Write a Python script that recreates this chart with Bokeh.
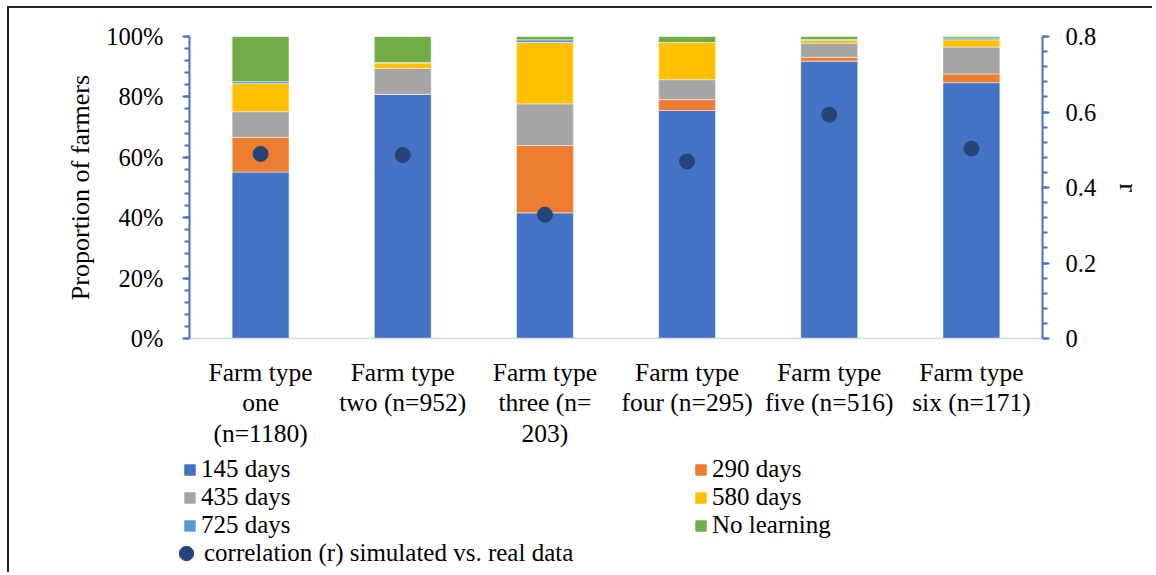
from bokeh.plotting import figure
from bokeh.models import (ColumnDataSource, FactorRange, Range1d, LinearAxis, FixedTicker,
                          NumeralTickFormatter, Legend, LegendItem)
from bokeh.embed import file_html
from bokeh.resources import INLINE

# ---------------- data ----------------
categories = ["Farm type\none\n(n=1180)", "Farm type\ntwo (n=952)", "Farm type\nthree (n=\n203)",
              "Farm type\nfour (n=295)", "Farm type\nfive (n=516)", "Farm type\nsix (n=171)"]
series_names = ["145 days", "290 days", "435 days", "580 days", "725 days", "No learning"]
d145 = [55.1, 80.8, 41.6, 75.5, 91.8, 84.7]
d290 = [11.5, 0.1, 22.3, 3.6, 1.3, 2.9]
d435 = [8.5, 8.5, 13.8, 6.6, 4.7, 8.9]
d580 = [9.3, 1.8, 20.3, 12.3, 0.9, 2.4]
d725 = [0.7, 0.2, 0.9, 0.0, 0.3, 0.6]
dnone = [14.9, 8.6, 1.1, 2.0, 1.0, 0.5]
r_values = [0.489, 0.486, 0.328, 0.469, 0.593, 0.503]
r_name = "correlation (r) simulated vs. real data"
left_ticks = [0, 0.2, 0.4, 0.6, 0.8, 1.0]
right_ticks = [0, 0.2, 0.4, 0.6, 0.8]

colors = ["#4472C4", "#ED7D31", "#A5A5A5", "#FFC000", "#5B9BD5", "#70AD47"]
dot_color = "#264478"
FONT = "Liberation Serif"
BORDER = "2px solid #262626"

series = [d145, d290, d435, d580, d725, dnone]
data = {"x": categories, "r": r_values}
for name, vals in zip(series_names, series):
    data[name] = [v / 100.0 for v in vals]
src = ColumnDataSource(data)

W, HP, HQ = 1145, 447, 119
xrange = FactorRange(*categories, range_padding=0)
p = figure(width=W, height=HP, x_range=xrange,
           y_range=Range1d(0, 1), output_backend="svg", toolbar_location=None,
           min_border_left=180, min_border_top=28, min_border_right=112, min_border_bottom=117)
p.styles = {"margin-left": "7px", "margin-top": "6px", "border-left": BORDER, "border-top": BORDER}
p.outline_line_color = None
p.xgrid.grid_line_color = None
p.ygrid.grid_line_color = None
p.background_fill_color = "white"
p.border_fill_color = "white"

p.vbar_stack(series_names, x="x", width=0.4, source=src, color=colors,
             line_color="white", line_alpha=0.45, line_width=1)

p.extra_y_ranges = {"r": Range1d(0, 0.8)}
p.scatter("x", "r", source=src, y_range_name="r", size=15, color=dot_color)

# x axis
xa = p.xaxis[0]
xa.axis_line_color = "#D9D9D9"
xa.axis_line_width = 1.5
xa.major_tick_line_color = None
xa.minor_tick_line_color = None
xa.major_label_text_font = FONT
xa.major_label_text_font_size = "25.5px"
xa.major_label_text_color = "black"
xa.major_label_text_line_height = 1.06
xa.major_label_standoff = 13
xa.major_label_orientation = "horizontal"

def style_y(ax, ticks, minor):
    ax.ticker = FixedTicker(ticks=ticks, minor_ticks=minor)
    ax.axis_line_color = "#4472C4"
    ax.axis_line_width = 2
    ax.major_tick_line_color = "#4472C4"
    ax.major_tick_line_width = 2
    ax.minor_tick_line_color = "#4472C4"
    ax.minor_tick_line_width = 2
    ax.major_tick_in = 0
    ax.major_tick_out = 7
    ax.minor_tick_in = 0
    ax.minor_tick_out = 5
    ax.major_label_text_font = FONT
    ax.major_label_text_font_size = "24.5px"
    ax.major_label_text_color = "black"
    ax.axis_label_text_font = FONT
    ax.axis_label_text_font_size = "26px"
    ax.axis_label_text_font_style = "normal"
    ax.axis_label_text_color = "black"

ya = p.yaxis[0]
style_y(ya, left_ticks, [i * 0.04 for i in range(26)])
ya.formatter = NumeralTickFormatter(format="0%")
ya.axis_label = "Proportion of farmers"
ya.major_label_standoff = 19
ya.axis_label_standoff = 8

ra = LinearAxis(y_range_name="r")
style_y(ra, right_ticks, [i * 0.04 for i in range(21)])
ra.formatter = NumeralTickFormatter(format="0.[0]")
ra.axis_label = "r"
ra.major_label_standoff = 16
ra.axis_label_standoff = 15
p.add_layout(ra, "right")

# ---------------- legend panel (second root, below the chart) ----------------
q = figure(width=W, height=HQ, x_range=xrange, y_range=Range1d(0, 1),
           output_backend="svg", toolbar_location=None,
           x_axis_location=None, y_axis_location=None,
           min_border=0, min_border_left=0, min_border_right=0, min_border_top=0, min_border_bottom=0)
q.styles = {"margin-left": "7px", "border-left": BORDER}
q.outline_line_color = None
q.xgrid.grid_line_color = None
q.ygrid.grid_line_color = None
q.border_fill_color = "white"
q.extra_y_ranges = {"r": Range1d(0, 0.8)}

# legend keys: same data, hidden in this panel (only their legend swatches show)
kbars = q.vbar_stack(series_names, x="x", width=0.4, source=src, color=colors, visible=False)
kdot = q.scatter("x", "r", source=src, y_range_name="r", size=15, color=dot_color, visible=False)
keys = dict(zip(series_names, kbars))
keys[r_name] = kdot

def mk_legend(names, loc, gw=13, gh=13, standoff=5):
    return Legend(items=[LegendItem(label=n, renderers=[keys[n]]) for n in names],
                  location=loc, orientation="vertical",
                  label_text_font=FONT, label_text_font_size="25px", label_text_color="black",
                  glyph_width=gw, glyph_height=gh, label_standoff=standoff, label_height=28,
                  spacing=0, padding=0, margin=0, border_line_color=None,
                  background_fill_alpha=0, inactive_fill_alpha=0)

q.add_layout(mk_legend([series_names[0], series_names[2], series_names[4]], (174, 33)))
q.add_layout(mk_legend([series_names[1], series_names[3], series_names[5]], (685, 33)))
q.add_layout(mk_legend([r_name], (159, 1), gw=36, gh=36, standoff=0))

open("out.html", "w").write(file_html([p, q], INLINE))
